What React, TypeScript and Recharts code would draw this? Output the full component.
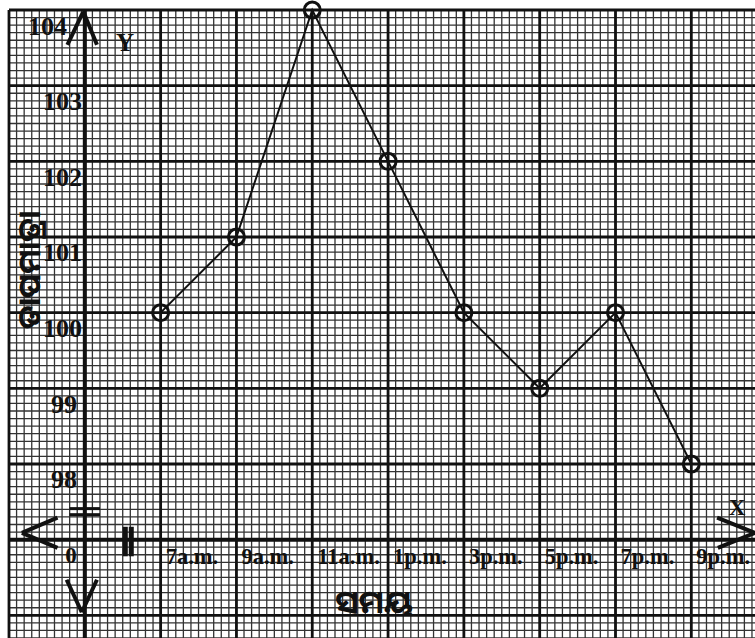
import React from 'react';
import {
  CartesianGrid,
  ComposedChart,
  Line,
  ReferenceLine,
  XAxis,
  YAxis,
} from 'recharts';

// Readings off the graph paper: body temperature every two hours
const timeLabels = ['7a.m.', '9a.m.', '11a.m.', '1p.m.', '3p.m.', '5p.m.', '7p.m.', '9p.m.'];
const temperatures = [100, 101, 104, 102, 100, 99, 100, 98];
const tempTicks = [98, 99, 100, 101, 102, 103, 104];
const slotTicks = [1, 2, 3, 4, 5, 6, 7, 8];

const data = timeLabels.map((time, i) => ({ slot: i + 1, time, temp: temperatures[i] }));

// graph paper: one big square per unit, ten small ones inside
const xDomain: [number, number] = [-1, 8.84];
const yDomain: [number, number] = [95.7, 104];
const majorX = [-1, 0, 1, 2, 3, 4, 5, 6, 7, 8];
const majorY = [96, 97, 98, 99, 100, 101, 102, 103, 104];
const minorX = Array.from({ length: 99 }, (_, i) => -1 + i * 0.1);
const minorY = Array.from({ length: 84 }, (_, i) => 95.7 + i * 0.1);

const ink = '#111';
const serif = '"Liberation Serif", "Times New Roman", serif';
const odia = '"Noto Sans Oriya", "Noto Sans Odia", "Lohit Odia", "Noto Sans", sans-serif';

// map paper values to pixels, through the axis scale when the grid hands it over
function toX(props: any, v: number) {
  const s = props?.xAxis?.scale;
  if (typeof s === 'function') return s(v);
  const o = props.offset;
  return o.left + ((v - xDomain[0]) / (xDomain[1] - xDomain[0])) * o.width;
}
function toY(props: any, v: number) {
  const s = props?.yAxis?.scale;
  if (typeof s === 'function') return s(v);
  const o = props.offset;
  return o.top + ((yDomain[1] - v) / (yDomain[1] - yDomain[0])) * o.height;
}

function TempTick(props: any) {
  const { y, payload } = props;
  const v = payload.value;
  const right = v === 104 ? 67 : v <= 99 ? 77 : 82;
  return (
    <text
      x={right}
      y={y + 16}
      textAnchor="end"
      dominantBaseline="central"
      fontFamily={serif}
      fontWeight="bold"
      fontSize={26}
      fill={ink}
    >
      {v}
    </text>
  );
}

function TimeTick(props: any) {
  const { x, payload } = props;
  return (
    <text
      x={x + 5}
      y={556}
      textAnchor="start"
      dominantBaseline="central"
      fontFamily={serif}
      fontWeight="bold"
      fontSize={22.5}
      fill={ink}
    >
      {timeLabels[payload.value - 1]}
    </text>
  );
}

const arrow = { stroke: ink, strokeWidth: 4, ifOverflow: 'visible' as const, xAxisId: 'main', yAxisId: 'main' };

export default function App() {
  return (
    <div style={{ position: 'absolute', left: 0, top: 0, width: 755, height: 638, background: '#fff' }}>
      <ComposedChart width={755} height={638} data={data} margin={{ top: 10, right: 0, bottom: 0, left: 9 }}>
        <XAxis
          xAxisId="main"
          dataKey="slot"
          type="number"
          domain={xDomain}
          ticks={slotTicks}
          interval={0}
          mirror
          axisLine={false}
          tickLine={false}
          tick={<TimeTick />}
        />
        <YAxis
          yAxisId="main"
          type="number"
          domain={yDomain}
          ticks={tempTicks}
          interval={0}
          mirror
          axisLine={false}
          tickLine={false}
          tick={<TempTick />}
        />

        <CartesianGrid
          xAxisId="main"
          yAxisId="main"
          stroke="#333"
          strokeWidth={1.3}
          verticalCoordinatesGenerator={(p: any) => minorX.map((v) => toX(p, v))}
          horizontalCoordinatesGenerator={(p: any) => minorY.map((v) => toY(p, v))}
        />
        <CartesianGrid
          xAxisId="main"
          yAxisId="main"
          stroke={ink}
          strokeWidth={2.8}
          verticalCoordinatesGenerator={(p: any) => majorX.map((v) => toX(p, v))}
          horizontalCoordinatesGenerator={(p: any) => majorY.map((v) => toY(p, v))}
        />

        {/* axes */}
        <ReferenceLine xAxisId="main" yAxisId="main" x={0} stroke={ink} strokeWidth={4} ifOverflow="visible" />
        <ReferenceLine xAxisId="main" yAxisId="main" y={97} stroke={ink} strokeWidth={4} ifOverflow="visible" />

        {/* arrow heads */}
        <ReferenceLine {...arrow} segment={[{ x: -0.23, y: 103.54 }, { x: -0.02, y: 103.98 }]} />
        <ReferenceLine {...arrow} segment={[{ x: -0.02, y: 103.98 }, { x: 0.16, y: 103.54 }]} />
        <ReferenceLine {...arrow} segment={[{ x: -0.24, y: 96.47 }, { x: -0.04, y: 96.04 }]} />
        <ReferenceLine {...arrow} segment={[{ x: -0.04, y: 96.04 }, { x: 0.16, y: 96.47 }]} />
        <ReferenceLine {...arrow} segment={[{ x: -0.36, y: 97.29 }, { x: -0.83, y: 97.09 }]} />
        <ReferenceLine {...arrow} segment={[{ x: -0.83, y: 97.09 }, { x: -0.36, y: 96.89 }]} />
        <ReferenceLine {...arrow} segment={[{ x: 8.34, y: 97.29 }, { x: 8.84, y: 97.09 }]} />
        <ReferenceLine {...arrow} segment={[{ x: 8.84, y: 97.09 }, { x: 8.35, y: 96.89 }]} />

        {/* axis break marks */}
        <ReferenceLine {...arrow} strokeWidth={3} segment={[{ x: -0.2, y: 97.41 }, { x: 0.2, y: 97.41 }]} />
        <ReferenceLine {...arrow} strokeWidth={3} segment={[{ x: -0.2, y: 97.33 }, { x: 0.2, y: 97.33 }]} />
        <ReferenceLine {...arrow} strokeWidth={5} segment={[{ x: 0.534, y: 97.17 }, { x: 0.534, y: 96.78 }]} />
        <ReferenceLine {...arrow} strokeWidth={5} segment={[{ x: 0.613, y: 97.17 }, { x: 0.613, y: 96.78 }]} />

        <Line
          xAxisId="main"
          yAxisId="main"
          type="linear"
          dataKey="temp"
          stroke={ink}
          strokeWidth={2}
          dot={{ r: 8, stroke: ink, strokeWidth: 3, fill: 'none' }}
          activeDot={false}
          isAnimationActive={false}
        />
      </ComposedChart>

      <svg
        width={755}
        height={638}
        style={{ position: 'absolute', left: 0, top: 0, pointerEvents: 'none' }}
      >
        <text x={125} y={42} textAnchor="middle" dominantBaseline="central" fontFamily={serif} fontWeight="bold" fontSize={25} fill={ink}>
          Y
        </text>
        <text x={737} y={507} textAnchor="middle" dominantBaseline="central" fontFamily={serif} fontWeight="bold" fontSize={23} fill={ink}>
          X
        </text>
        <text x={71} y={555} textAnchor="middle" dominantBaseline="central" fontFamily={serif} fontWeight="bold" fontSize={23} fill={ink}>
          0
        </text>
        <text x={374} y={600} textAnchor="middle" dominantBaseline="central" fontFamily={odia} fontWeight="bold" fontSize={32} fill={ink}>
          ସମୟ
        </text>
        <text
          x={28}
          y={270}
          transform="rotate(-90 28 270)"
          textAnchor="middle"
          dominantBaseline="central"
          fontFamily={odia}
          fontWeight="bold"
          fontSize={31}
          fill={ink}
        >
          ତାପମାତ୍ରା
        </text>
      </svg>
    </div>
  );
}
